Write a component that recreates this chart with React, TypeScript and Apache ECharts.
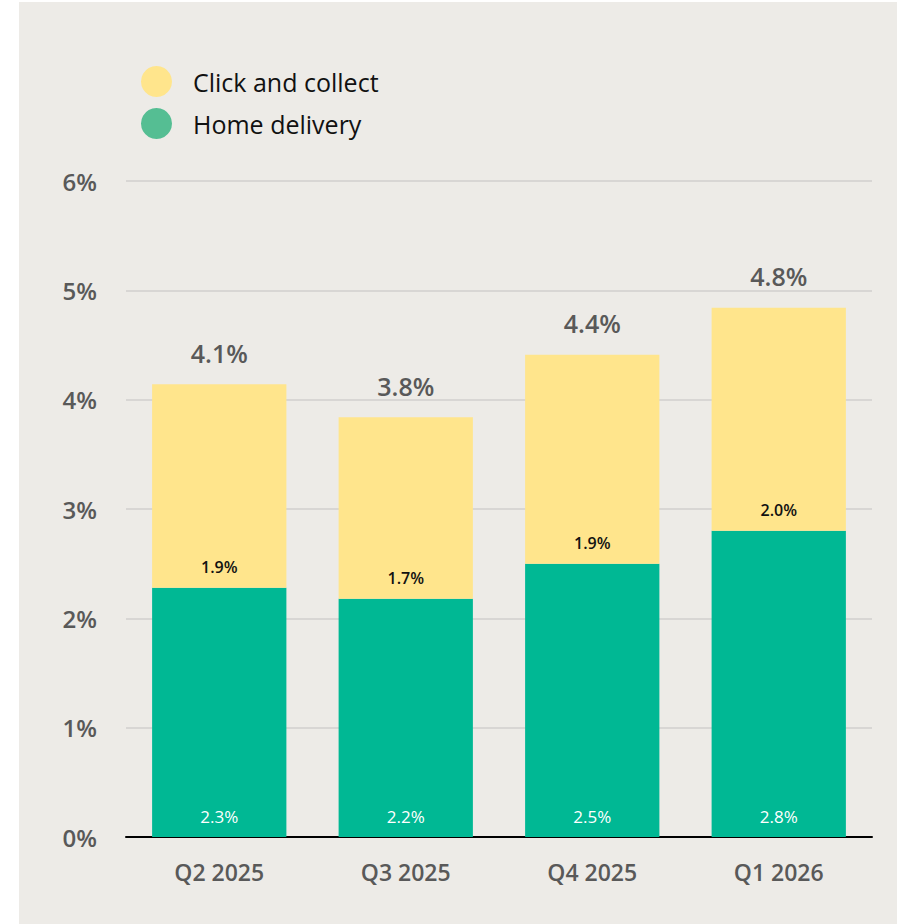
import React, { useEffect, useRef } from "react";
import * as echarts from "echarts";

const categories = ["Q2 2025", "Q3 2025", "Q4 2025", "Q1 2026"];
const homeDelivery = [2.28, 2.18, 2.5, 2.8];
const clickAndCollect = [1.86, 1.66, 1.91, 2.04];
const yTicks = [0, 1, 2, 3, 4, 5, 6];

const FONT = "'Open Sans', 'Noto Sans', sans-serif";
const YELLOW = "#FFE58C";
const GREEN = "#00B894";
const GREEN_LEGEND = "#55BE93";
const BG = "#EDEBE7";

export default function App() {
  const ref = useRef<HTMLDivElement>(null);
  useEffect(() => {
    document.body.style.margin = "0";
    if (!ref.current) return;
    const chart = echarts.init(ref.current, null, { renderer: "svg" });
    const totals = homeDelivery.map((v, i) => +(v + clickAndCollect[i]).toFixed(2));
    chart.setOption({
      animation: false,
      textStyle: { fontFamily: FONT },
      graphic: [
        { type: "rect", z: -10, silent: true, shape: { x: 19, y: 2, width: 878, height: 922 }, style: { fill: BG } },
      ],
      legend: {
        orient: "vertical",
        left: 141,
        top: 66,
        padding: 0,
        icon: "circle",
        itemWidth: 31,
        itemHeight: 31,
        itemGap: 11,
        textStyle: { fontSize: 25, color: "#111", fontFamily: FONT, padding: [0, 0, 0, 16] },
        data: [
          { name: "Click and collect", itemStyle: { color: YELLOW } },
          { name: "Home delivery", itemStyle: { color: GREEN_LEGEND } },
        ],
      },
      grid: { left: 126, right: 25, top: 181, bottom: 87, containLabel: false },
      xAxis: {
        type: "category",
        data: categories,
        axisLine: { lineStyle: { color: "#000", width: 2 } },
        axisTick: { show: false },
        axisLabel: { color: "#595959", fontSize: 23, fontWeight: 600, margin: 23, fontFamily: FONT },
      },
      yAxis: {
        type: "value",
        min: yTicks[0],
        max: yTicks[yTicks.length - 1],
        interval: 1,
        axisLine: { show: false },
        axisTick: { show: false },
        splitLine: { lineStyle: { color: "#D8D6D4", width: 2 } },
        axisLabel: {
          color: "#595959",
          fontSize: 24,
          fontWeight: 600,
          margin: 29,
          fontFamily: FONT,
          formatter: (v: number) => v + "%",
        },
      },
      series: [
        {
          name: "Home delivery",
          type: "bar",
          stack: "total",
          barWidth: "72%",
          data: homeDelivery,
          itemStyle: { color: GREEN },
          label: {
            show: true,
            position: "insideBottom",
            distance: 12,
            color: "#fff",
            fontSize: 17,
            fontFamily: FONT,
            formatter: (p: any) => p.value.toFixed(1) + "%",
          },
        },
        {
          name: "Click and collect",
          type: "bar",
          stack: "total",
          barWidth: "72%",
          data: clickAndCollect,
          itemStyle: { color: YELLOW },
          label: {
            show: true,
            position: "insideBottom",
            distance: 13,
            color: "#111",
            fontSize: 16,
            fontWeight: 600,
            fontFamily: FONT,
            formatter: (p: any) => p.value.toFixed(1) + "%",
          },
        },
        {
          name: "Total",
          type: "bar",
          barWidth: "72%",
          barGap: "-100%",
          data: totals,
          itemStyle: { color: "rgba(0,0,0,0)" },
          silent: true,
          label: {
            show: true,
            position: "top",
            distance: 19,
            color: "#595959",
            fontSize: 25,
            fontWeight: 600,
            fontFamily: FONT,
            formatter: (p: any) => (Math.floor(p.value * 10) / 10).toFixed(1) + "%",
          },
        },
      ],
    });
    return () => chart.dispose();
  }, []);
  return <div ref={ref} style={{ width: 897, height: 924 }} />;
}
